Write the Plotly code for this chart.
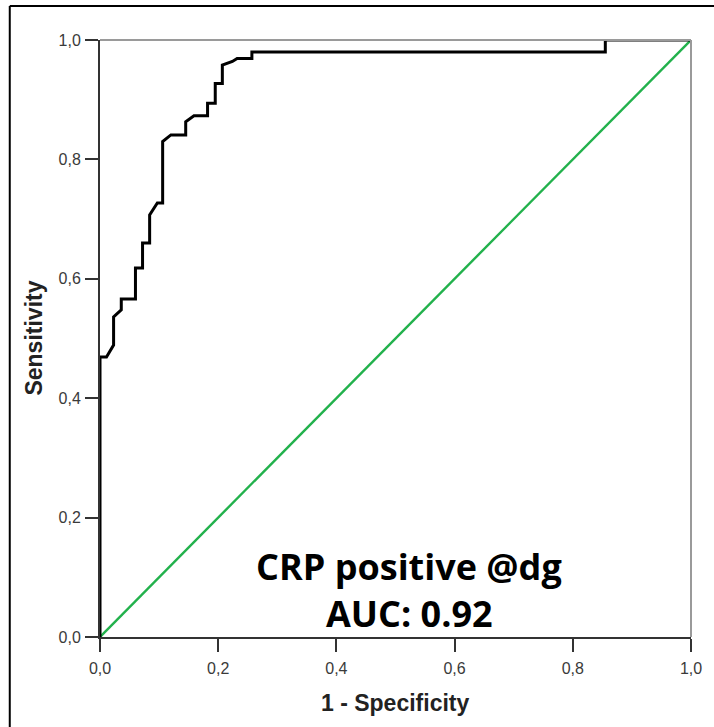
import plotly.graph_objects as go

# ROC curve (1 - specificity, sensitivity)
fpr = [0.0, 0.0, 0.011, 0.023, 0.023, 0.036, 0.036, 0.060, 0.060, 0.072, 0.072,
       0.084, 0.084, 0.097, 0.106, 0.106, 0.120, 0.145, 0.145, 0.159, 0.182,
       0.182, 0.195, 0.195, 0.207, 0.207, 0.224, 0.232, 0.257, 0.257, 0.855,
       0.855, 1.0]
tpr = [0.0, 0.469, 0.469, 0.489, 0.536, 0.548, 0.566, 0.566, 0.618, 0.618, 0.660,
       0.660, 0.707, 0.727, 0.727, 0.830, 0.841, 0.841, 0.863, 0.873, 0.873,
       0.894, 0.894, 0.927, 0.927, 0.958, 0.964, 0.969, 0.969, 0.980, 0.980,
       1.0, 1.0]
ref_x = [0.0, 1.0]
ref_y = [0.0, 1.0]

tick_vals = [0.0, 0.2, 0.4, 0.6, 0.8, 1.0]
tick_text = ["0,0", "0,2", "0,4", "0,6", "0,8", "1,0"]

W, H = 714, 727
L, R, T, B = 100, 18, 40, 90
pw, ph = W - L - R, H - T - B

def px_x(p):
    return (p - L) / pw

def px_y(p):
    return (H - B - p) / ph

fig = go.Figure()
fig.add_trace(go.Scatter(x=ref_x, y=ref_y, mode="lines",
                         line=dict(color="#22b14c", width=2.4),
                         cliponaxis=False, showlegend=False, hoverinfo="skip"))
fig.add_trace(go.Scatter(x=fpr, y=tpr, mode="lines",
                         line=dict(color="#000000", width=3),
                         cliponaxis=False, showlegend=False))

axis_common = dict(range=[0, 1], tickmode="array", tickvals=tick_vals,
                   ticktext=tick_text, ticks="outside", ticklen=13,
                   tickwidth=2, tickcolor="#333333", showgrid=False,
                   zeroline=False, showline=True, linecolor="#333333",
                   linewidth=2, mirror=False,
                   tickfont=dict(family="Liberation Sans, Arial", size=16,
                                 color="#3a3a3a"))
fig.update_xaxes(**axis_common, ticklabelstandoff=3)
fig.update_yaxes(**axis_common, ticklabelstandoff=1)

shapes = [
    # gray frame top / right
    dict(type="line", xref="paper", yref="paper", x0=0, x1=1, y0=1, y1=1,
         line=dict(color="#9a9a9a", width=2)),
    dict(type="line", xref="paper", yref="paper", x0=1, x1=1, y0=0, y1=1,
         line=dict(color="#9a9a9a", width=2)),
    # outer picture border (top and left)
    dict(type="line", xref="paper", yref="paper", x0=px_x(9), x1=px_x(720),
         y0=px_y(6), y1=px_y(6), line=dict(color="#000000", width=2)),
    dict(type="line", xref="paper", yref="paper", x0=px_x(9), x1=px_x(9),
         y0=px_y(6), y1=px_y(735), line=dict(color="#000000", width=2)),
]

def ann(text, x, y, size, family, angle=0, color="#000000"):
    return dict(text=text, xref="paper", yref="paper", x=px_x(x), y=px_y(y),
                xanchor="center", yanchor="middle", showarrow=False,
                textangle=angle,
                font=dict(family=family, size=size, color=color))

annotations = [
    ann("<b>1 - Specificity</b>", 397, 703, 23, "Liberation Sans, Arial",
        color="#222222"),
    ann("<b>Sensitivity</b>", 33, 338, 23, "Liberation Sans, Arial", angle=-90,
        color="#222222"),
    ann("<b>CRP positive @dg</b>", 412, 566, 36, "Open Sans"),
    ann("<b>AUC: 0.92</b>", 412, 613, 36, "Open Sans"),
]

fig.update_layout(width=W, height=H, margin=dict(l=L, r=R, t=T, b=B),
                  paper_bgcolor="white", plot_bgcolor="white",
                  shapes=shapes, annotations=annotations, showlegend=False)

fig.write_html("out.html")
